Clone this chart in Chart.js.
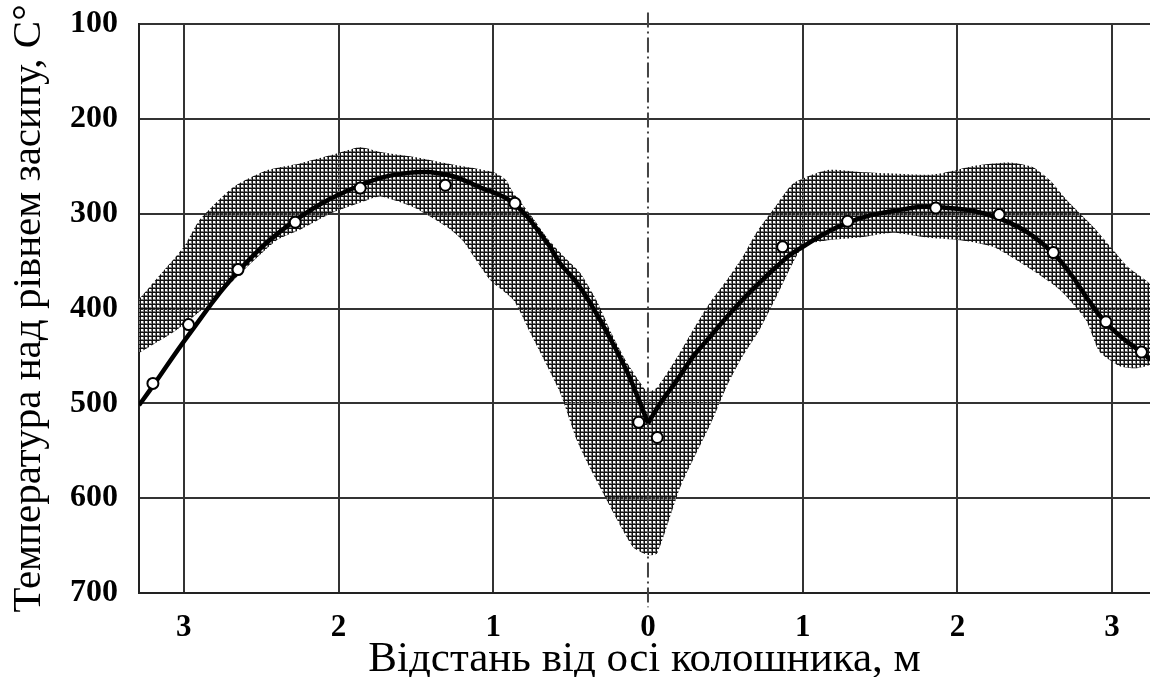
<!DOCTYPE html>
<html lang="uk">
<head>
<meta charset="utf-8">
<title>Температура над рівнем засипу</title>
<script src="https://cdn.jsdelivr.net/npm/chart.js@4.4.1/dist/chart.umd.min.js"></script>
<style>
    html, body { margin: 0; padding: 0; background: #fff; overflow: hidden; }
    #wrap { width: 1150px; height: 677px; }
    canvas { display: block; }
</style>
</head>
<body>
<div id="wrap"><canvas id="grafico" width="1150" height="677"></canvas></div>
<script>
// Межі осей і підписи поділок
const xMin = -3.29;
const xMax = 3.245;
const xTicks = [-3, -2, -1, 0, 1, 2, 3];
const yTicks = [100, 200, 300, 400, 500, 600, 700];

// Середня крива (ліва і права гілки сходяться в точці 0)
const curveLeftX = [-3.29, -3.21, -2.97, -2.65, -2.28, -1.86, -1.55, -1.30, -1.09, -0.87, -0.65, -0.57, -0.46, -0.36, -0.25, -0.14, -0.05, 0];
const curveLeftY = [502, 484, 428, 361, 307, 270, 257, 259, 272, 289, 331, 352, 373, 398, 430, 465, 500, 521];
const curveRightX = [0, 0.08, 0.19, 0.29, 0.40, 0.51, 0.61, 0.72, 0.83, 0.94, 1.30, 1.63, 1.86, 2.27, 2.62, 2.96, 3.25];
const curveRightY = [521, 500, 475, 451, 430, 409, 391, 373, 356, 341, 309, 296, 293, 305, 342, 415, 454];

// Виміряні точки
const markersX = [-3.20, -2.97, -2.65, -2.28, -1.86, -1.31, -0.86, -0.06, 0.06, 0.87, 1.29, 1.86, 2.27, 2.62, 2.96, 3.19];
const markersY = [479, 417, 359, 309, 273, 270, 289, 520, 536, 335, 308, 294, 301, 341, 414, 446];

// Заштрихована смуга розкиду: верхній і нижній край
const bandTopX = [-3.30, -3.22, -3.00, -2.90, -2.68, -2.46, -2.25, -2.04, -1.86, -1.73, -1.52, -1.30, -1.00, -0.92, -0.87, -0.76, -0.65, -0.55, -0.44, -0.33, -0.23, -0.14, -0.03, 0, 0.06, 0.19, 0.29, 0.40, 0.51, 0.61, 0.70, 0.83, 0.94, 1.16, 1.37, 1.80, 1.91, 2.13, 2.34, 2.49, 2.60, 2.71, 2.88, 2.99, 3.10, 3.26];
const bandTopY = [392, 377, 335, 307, 272, 254, 247, 238, 230, 235, 240, 247, 256, 264, 278, 301, 326, 344, 362, 392, 428, 456, 483, 488, 483, 451, 423, 394, 370, 346, 320, 291, 268, 254, 256, 259, 257, 249, 246, 251, 265, 286, 314, 335, 356, 378];
const bandBottomX = [-3.30, -3.05, -2.81, -2.59, -2.40, -2.25, -2.04, -1.82, -1.73, -1.52, -1.30, -1.20, -1.02, -0.87, -0.76, -0.57, -0.46, -0.36, -0.10, 0, 0.06, 0.21, 0.41, 0.51, 0.61, 0.72, 0.83, 1.00, 1.16, 1.37, 1.58, 1.80, 2.02, 2.23, 2.45, 2.66, 2.83, 2.92, 3.05, 3.15, 3.26];
const bandBottomY = [448, 423, 391, 356, 328, 317, 299, 286, 282, 293, 314, 328, 370, 391, 426, 488, 539, 573, 651, 660, 658, 588, 520, 482, 451, 423, 388, 335, 328, 325, 320, 325, 328, 335, 356, 380, 412, 446, 461, 463, 457];

// Вісь колошника (штрихпунктир)
const axisLineX = [0, 0];
const axisLineY = [88, 715];

function pares(xs, ys) {
    return xs.map((x, i) => ({ x: x, y: ys[i] }));
}

// Контур смуги: верхній край зліва направо, нижній справа наліво
function contornoBanda() {
    const top = pares(bandTopX, bandTopY);
    const bottom = pares(bandBottomX, bandBottomY).reverse();
    return top.concat(bottom);
}

// Сітчаста штриховка
function criarHachura(ctx) {
    const tile = document.createElement("canvas");
    tile.width = 4;
    tile.height = 4;
    const g = tile.getContext("2d");
    g.fillStyle = "#7a7a7a";
    g.fillRect(0, 0, 4, 4);
    g.fillStyle = "#111111";
    g.fillRect(0, 0, 4, 1);
    g.fillRect(0, 0, 1, 4);
    g.clearRect(1, 1, 2, 2);
    return ctx.createPattern(tile, "repeat");
}

const canvas = document.getElementById("grafico");
const ctx = canvas.getContext("2d");
const serif = "'Liberation Serif', 'Times New Roman', serif";

new Chart(ctx, {
    type: "line",
    data: {
        datasets: [
            {
                label: "точки",
                data: pares(markersX, markersY),
                showLine: false,
                pointRadius: 5.5,
                pointBorderWidth: 2,
                pointBackgroundColor: "#ffffff",
                pointBorderColor: "#000000",
                order: 0,
            },
            {
                label: "крива ліва",
                data: pares(curveLeftX, curveLeftY),
                borderColor: "#000000",
                borderWidth: 4.5,
                pointRadius: 0,
                tension: 0.4,
                fill: false,
                order: 1,
            },
            {
                label: "крива права",
                data: pares(curveRightX, curveRightY),
                borderColor: "#000000",
                borderWidth: 4.5,
                pointRadius: 0,
                tension: 0.4,
                fill: false,
                order: 1,
            },
            {
                label: "вісь",
                data: pares(axisLineX, axisLineY),
                borderColor: "#444444",
                borderWidth: 2,
                borderDash: [15, 4, 2, 4],
                pointRadius: 0,
                fill: false,
                clip: false,
                order: 2,
            },
            {
                label: "смуга",
                data: contornoBanda(),
                borderWidth: 0,
                borderColor: "rgba(0,0,0,0)",
                backgroundColor: criarHachura(ctx),
                pointRadius: 0,
                tension: 0.2,
                fill: "shape",
                order: 3,
            },
        ],
    },
    options: {
        responsive: false,
        animation: false,
        devicePixelRatio: 1,
        layout: {
            autoPadding: false,
            padding: { top: 24, right: 0, bottom: 0, left: 0 },
        },
        plugins: {
            legend: { display: false },
            tooltip: { enabled: false },
        },
        scales: {
            x: {
                type: "linear",
                min: xMin,
                max: xMax,
                afterBuildTicks: (scale) => {
                    scale.ticks = xTicks.map((v) => ({ value: v }));
                },
                afterFit: (scale) => {
                    scale.height = 84;
                    scale.paddingLeft = 0;
                    scale.paddingRight = 0;
                },
                grid: {
                    color: (c) => (c.tick && c.tick.value === 0 ? "rgba(0,0,0,0)" : "#333333"),
                    lineWidth: 2,
                    drawTicks: true,
                    tickLength: 16,
                    tickColor: "rgba(0,0,0,0)",
                },
                border: { display: true, color: "#222222", width: 2 },
                ticks: {
                    padding: 0,
                    color: "#000000",
                    maxRotation: 0,
                    font: { family: serif, size: 31, weight: "bold" },
                    callback: (v) => Math.abs(v),
                },
                title: {
                    display: true,
                    text: "Відстань від осі колошника, м",
                    color: "#000000",
                    font: { family: serif, size: 43, lineHeight: 0.8 },
                    padding: { top: 0, bottom: 0 },
                },
            },
            y: {
                type: "linear",
                reverse: true,
                min: 100,
                max: 700,
                afterBuildTicks: (scale) => {
                    scale.ticks = yTicks.map((v) => ({ value: v }));
                },
                afterFit: (scale) => {
                    scale.width = 139;
                    scale.paddingTop = 0;
                    scale.paddingBottom = 0;
                },
                grid: {
                    color: "#333333",
                    lineWidth: 2,
                    drawTicks: true,
                    tickLength: 21,
                    tickColor: "rgba(0,0,0,0)",
                },
                border: { display: true, color: "#222222", width: 2 },
                ticks: {
                    padding: 0,
                    color: "#000000",
                    font: { family: serif, size: 32, weight: "bold" },
                },
                title: {
                    display: true,
                    text: "Температура над рівнем засипу, С°",
                    color: "#000000",
                    font: { family: serif, size: 41, lineHeight: 1 },
                    padding: { top: 9, bottom: 0 },
                },
            },
        },
    },
});
</script>
</body>
</html>
